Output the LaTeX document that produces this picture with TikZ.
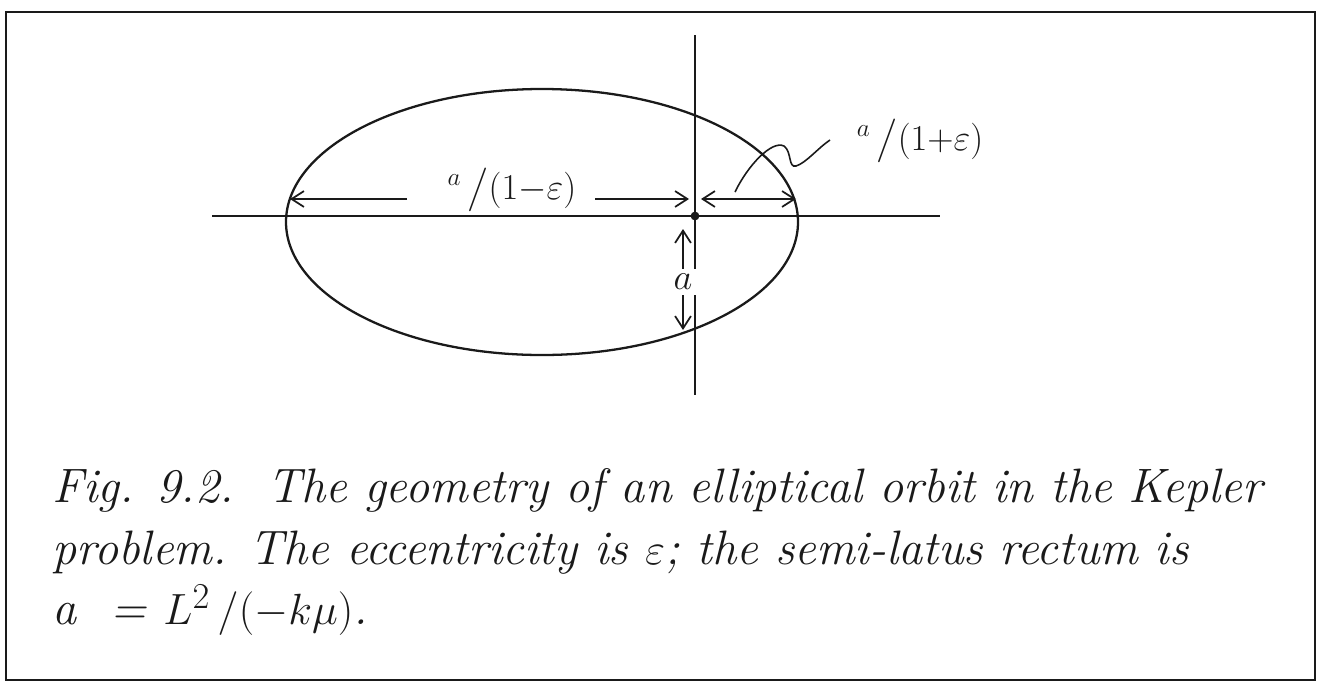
\documentclass[tikz,border=0pt]{standalone}
\usepackage{amsmath}
\usetikzlibrary{arrows.meta}
\definecolor{Cink}{HTML}{1A1A1A}

\begin{document}
\begin{tikzpicture}[x=0.02cm,y=-0.02cm,
		ink/.style={draw=Cink,line width=1.3pt},
		dimarrow/.style={Cink,line width=1pt,-{Straight Barb[length=7pt,width=9pt]}},
		lbl/.style={font=\fontsize{22}{26}\selectfont,text=Cink,inner sep=1pt},
		captionline/.style={anchor=base west,font=\fontsize{27.5}{33}\selectfont\itshape,text=Cink,inner sep=0pt}]
		\useasboundingbox (0,0) rectangle (1321,687);
		\draw[ink,line width=1.2pt] (6,12) rectangle (1315,680);
		% orbit and axes
		\draw[ink] (542,222) ellipse [x radius=256,y radius=133];
		\coordinate (axL) at (212,216);
		\coordinate (axR) at (940,216);
		\coordinate (vtop) at (695,35);
		\coordinate (vbot) at (695,395);
		\draw[ink,line width=1.6pt] (axL)--(axR);
		\draw[ink,line width=1.1pt] (vtop)--(vbot);
		\node[circle,fill=Cink,inner sep=0pt,minimum size=5pt] (focus) at (695,216) {};
		% distances along the major axis
		\coordinate (peri) at (290,199);
		\coordinate (apo) at (796,199);
		\coordinate (fl) at (689,199);
		\coordinate (fr) at (701,199);
		\coordinate (lfw) at (407,199);
		\coordinate (lfe) at (595,199);
		\node[lbl] (lfar) at (512,190) {${}^{a}\,\big/(1{-}\varepsilon)$};
		\node[lbl] (lnear) at (920,141) {${}^{a}\,\big/(1{+}\varepsilon)$};
		\draw[dimarrow] (lfw)--(peri);
		\draw[dimarrow] (lfe)--(fl);
		\draw[dimarrow,{Straight Barb[length=7pt,width=9pt]}-{Straight Barb[length=7pt,width=9pt]}] (fr)--(apo);
		\coordinate (lead) at (735,192);
		\draw[Cink,line width=0.9pt] (lead) .. controls (748,165) and (772,140) .. (784,146)
				.. controls (792,152) and (788,168) .. (796,166)
				.. controls (806,163) and (818,148) .. (830,140);
		% semi-latus rectum
		\coordinate (slt) at (683,229);
		\coordinate (slb) at (683,330);
		\node[lbl,fill=white,inner sep=3pt] (la) at (683,282) {$a$};
		\draw[dimarrow] (la.north)--(slt);
		\draw[dimarrow] (la.south)--(slb);
		% caption
		\node[captionline] (cap1) at (52,502) {Fig. 9.2.\ \ The geometry of an elliptical orbit in the Kepler};
		\node[captionline] (cap2) at (52,564) {problem. The eccentricity is $\varepsilon$; the semi-latus rectum is};
		\node[captionline] (cap3) at (52,624) {a\ \ = $L^{2}\,/(-k\mu)$.};
\end{tikzpicture}
\end{document}
